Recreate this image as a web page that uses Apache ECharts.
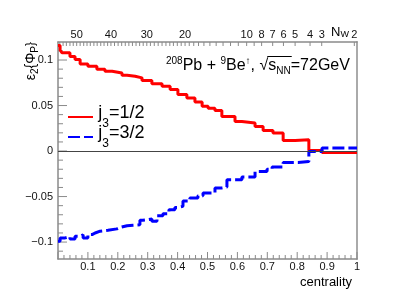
<!DOCTYPE html>
<html><head><meta charset="utf-8">
<script src="https://cdn.jsdelivr.net/npm/echarts@6/dist/echarts.min.js"></script>
<style>html,body{margin:0;padding:0;background:#fff}#c{width:415px;height:303px}</style>
</head><body><div id="c"></div>
<script>
// ---- data (bin lower edges in centrality, bin values) ----
const redEdges = [0.000,0.007,0.013,0.040,0.057,0.074,0.100,0.130,0.157,0.181,0.214,0.231,0.258,0.281,0.314,0.348,0.375,0.401,0.431,0.458,0.482,0.502,0.525,0.548,0.592,0.615,0.659,0.686,0.719,0.753,0.793,0.839,0.883];
const redValues = [0.116,0.111,0.108,0.104,0.1005,0.0957,0.0932,0.090,0.0877,0.0858,0.0833,0.0822,0.0804,0.0774,0.0738,0.0713,0.0675,0.062,0.0584,0.054,0.0493,0.047,0.0445,0.038,0.0325,0.0307,0.027,0.0226,0.0197,0.0116,0.0124,0.0007,-0.0015];
const blueEdges = [0.000,0.007,0.024,0.040,0.057,0.074,0.084,0.100,0.114,0.124,0.141,0.167,0.197,0.207,0.231,0.251,0.274,0.284,0.298,0.314,0.331,0.351,0.371,0.391,0.401,0.418,0.441,0.468,0.485,0.525,0.548,0.565,0.615,0.659,0.699,0.716,0.753,0.803,0.839,0.883];
const blueValues = [-0.099,-0.0954,-0.094,-0.0965,-0.0936,-0.092,-0.0954,-0.0918,-0.090,-0.088,-0.087,-0.0855,-0.084,-0.082,-0.0815,-0.081,-0.076,-0.0755,-0.0746,-0.077,-0.071,-0.0688,-0.0644,-0.062,-0.0607,-0.055,-0.0515,-0.049,-0.046,-0.0405,-0.0395,-0.0315,-0.0285,-0.0224,-0.020,-0.0175,-0.0125,-0.0114,-0.0004,0.0033];
const xEnd = 1.0;
const seriesNames = ['j3=1/2','j3=3/2'];

// ---- axis ticks / labels ----
const xLabelValues = [0.1,0.2,0.3,0.4,0.5,0.6,0.7,0.8,0.9,1.0];
const xMajorTicks = [0,0.1,0.2,0.3,0.4,0.5,0.6,0.7,0.8,0.9,1.0];
const xMinorTicks = [0.02,0.04,0.06,0.08,0.12,0.14,0.16,0.18,0.22,0.24,0.26,0.28,0.32,0.34,0.36,0.38,0.42,0.44,0.46,0.48,0.52,0.54,0.56,0.58,0.62,0.64,0.66,0.68,0.72,0.74,0.76,0.78,0.82,0.84,0.86,0.88,0.92,0.94,0.96,0.98];
const yLabelValues = [-0.1,-0.05,0,0.05,0.1];
const yMinorTicks = [-0.11,-0.09,-0.08,-0.07,-0.06,-0.04,-0.03,-0.02,-0.01,0.01,0.02,0.03,0.04,0.06,0.07,0.08,0.09,0.11];
const nwLabels = ['50','40','30','20','10','8','7','6','5','4','3','2'];
const nwLabelPos = [0.0625,0.177,0.297,0.425,0.631,0.681,0.718,0.754,0.793,0.843,0.882,0.991];
const nwTickPos = [0.006,0.017,0.028,0.040,0.051,0.0625,0.074,0.086,0.097,0.108,0.120,0.131,0.143,0.154,0.166,0.177,0.189,0.201,0.213,0.225,0.237,0.249,0.261,0.273,0.285,0.297,0.309,0.322,0.335,0.348,0.361,0.374,0.386,0.399,0.412,0.425,0.439,0.454,0.470,0.488,0.508,0.529,0.552,0.577,0.603,0.631,0.656,0.681,0.718,0.754,0.793,0.843,0.882,0.991];

const FONT = 'Liberation Sans';
const AX = '#8a8a8a';
const yMin = -0.1186, yMax = 0.1198;

function hist(edges, vals){
  const d = edges.map((e,i)=>[e, vals[i]]);
  d.push([xEnd, vals[vals.length-1]]);
  return d;
}
function fmtNum(v){
  const r = Math.round(v*1000)/1000;
  if (r === 0) return '0';
  const s = String(Math.abs(r));
  return (r<0?'\u2212':'') + s;
}
// tick marks drawn through the axes' scales
function tickSeries(values, side, len){
  return {
    type:'custom', silent:true, xAxisIndex:0, yAxisIndex:0, clip:false, z:1,
    data: values.map(v => side==='left' ? [0, v] : [v, 0]),
    renderItem:(params, api) => {
      let p, x2, y2;
      if (side==='bottom'){ p = api.coord([api.value(0), yMin]); x2 = p[0]; y2 = p[1]-len; }
      else if (side==='top'){ p = api.coord([api.value(0), yMax]); x2 = p[0]; y2 = p[1]+len; }
      else { p = api.coord([0, api.value(1)]); x2 = p[0]+len; y2 = p[1]; }
      return {type:'line', shape:{x1:p[0], y1:p[1], x2:x2, y2:y2}, style:{stroke:AX, lineWidth:1}};
    }
  };
}
function legendFor(name, top){
  return {
    orient:'vertical',left:67,top:top,padding:0,itemWidth:25,itemHeight:14,
    data:[name],
    itemStyle:{opacity:0},
    formatter:n=>'{h| }{m|j}{s|'+n.charAt(1)+'}{m|'+n.slice(2)+'}',
    textStyle:{fontFamily:FONT,color:'#000',fontSize:18,
      rich:{h:{fontFamily:FONT,fontSize:1,lineHeight:26,verticalAlign:'top'},
            m:{fontFamily:FONT,fontSize:18,lineHeight:24,verticalAlign:'top',color:'#000'},
            s:{fontFamily:FONT,fontSize:12,lineHeight:10,verticalAlign:'bottom',color:'#000'}}}
  };
}

// text measurement for the sqrt overline
const mctx = document.createElement('canvas').getContext('2d');
function tw(t, size){ mctx.font = size+'px "'+FONT+'"'; return mctx.measureText(t).width; }
const ANN_X = 166, ANN_M = 16, ANN_S = 10;
const preW = tw('208',ANN_S)+tw('Pb + ',ANN_M)+tw('9',ANN_S)+tw('Be',ANN_M)+tw('\u2191',ANN_S)+tw(', \u221a',ANN_M);
const sW = tw('s',ANN_M)+tw('NN',ANN_S);

const chart = echarts.init(document.getElementById('c'), null, {renderer:'canvas'});
chart.setOption({
  animation:false,
  backgroundColor:'#fff',
  grid:{left:58,right:58,top:42,bottom:44,containLabel:false},
  xAxis:[
    {type:'value',min:0,max:1,position:'bottom',
     axisLine:{show:true,onZero:false,lineStyle:{color:AX,width:1.5}},
     axisTick:{show:false},
     axisLabel:{customValues:xLabelValues,margin:2,fontFamily:FONT,fontSize:11,color:'#111',formatter:v=>fmtNum(v)},
     splitLine:{show:false}},
    {type:'value',min:0,max:1,position:'top',
     axisLine:{show:true,onZero:false,lineStyle:{color:AX,width:1.5}},
     axisTick:{show:false},
     axisLabel:{customValues:nwLabelPos,margin:2,fontFamily:FONT,fontSize:11,color:'#111',
       formatter:v=>{let bi=0,bd=1;nwLabelPos.forEach((p,i)=>{const d=Math.abs(p-v);if(d<bd){bd=d;bi=i;}});return nwLabels[bi];}},
     splitLine:{show:false}}
  ],
  yAxis:[
    {type:'value',min:yMin,max:yMax,position:'left',
     axisLine:{show:true,onZero:false,lineStyle:{color:AX,width:1.5}},
     axisTick:{show:false},
     axisLabel:{customValues:yLabelValues,margin:5,fontFamily:FONT,fontSize:11,color:'#111',formatter:v=>fmtNum(v)},
     splitLine:{show:false}},
    {type:'value',min:yMin,max:yMax,position:'right',
     axisLine:{show:true,onZero:false,lineStyle:{color:'#aaa',width:2}},
     axisTick:{show:false},axisLabel:{show:false},splitLine:{show:false}}
  ],
  legend:[legendFor(seriesNames[0],104), legendFor(seriesNames[1],124)],
  series:[
    {name:seriesNames[0],type:'line',step:'end',xAxisIndex:0,yAxisIndex:0,
     data:hist(redEdges,redValues),showSymbol:false,symbol:'none',
     lineStyle:{color:'#ff0000',width:3},itemStyle:{color:'#ff0000'},
     markLine:{silent:true,symbol:'none',label:{show:false},
       lineStyle:{color:'#444',width:1,type:'solid'},data:[{yAxis:0}]},
     z:3},
    {name:seriesNames[1],type:'line',step:'end',xAxisIndex:0,yAxisIndex:0,
     data:hist(blueEdges,blueValues),showSymbol:false,symbol:'none',
     lineStyle:{color:'#0000ff',width:3,type:[12,4]},itemStyle:{color:'#0000ff'},z:3},
    tickSeries(xMajorTicks,'bottom',7),
    tickSeries(xMinorTicks,'bottom',4),
    tickSeries(nwTickPos,'top',4),
    tickSeries(yLabelValues,'left',9),
    tickSeries(yMinorTicks,'left',5)
  ],
  graphic:[
    {type:'text',x:31,y:42,rotation:Math.PI/2,
     style:{text:'{m|\u03b5}{s|2}{m|{\u03a6}{s|P}{m|}}',align:'right',verticalAlign:'middle',
       rich:{m:{fontFamily:FONT,fontSize:14,lineHeight:18,fill:'#000'},
             s:{fontFamily:FONT,fontSize:10,lineHeight:10,verticalAlign:'bottom',fill:'#000'}}}},
    {type:'text',x:352,y:282,
     style:{text:'centrality',align:'right',verticalAlign:'middle',fontFamily:FONT,fontSize:13,fill:'#000'}},
    {type:'text',x:331,y:32,
     style:{text:'{m|N}{s|W}',align:'left',verticalAlign:'middle',
       rich:{m:{fontFamily:FONT,fontSize:13,lineHeight:15,fill:'#000'},
             s:{fontFamily:FONT,fontSize:9,lineHeight:9,verticalAlign:'bottom',fill:'#000'}}}},
    {type:'text',x:ANN_X,y:66,
     style:{text:'{u|208}{m|Pb + }{u|9}{m|Be}{u|\u2191}{m|, \u221a}{m|s}{d|NN}{m|=72GeV}',align:'left',verticalAlign:'middle',
       rich:{m:{fontFamily:FONT,fontSize:ANN_M,lineHeight:20,fill:'#000'},
             u:{fontFamily:FONT,fontSize:ANN_S,lineHeight:10,verticalAlign:'top',fill:'#000'},
             d:{fontFamily:FONT,fontSize:ANN_S,lineHeight:10,verticalAlign:'bottom',fill:'#000'}}}},
    {type:'line',shape:{x1:ANN_X+preW-1,y1:56.5,x2:ANN_X+preW+sW+1,y2:56.5},style:{stroke:'#000',lineWidth:1}}
  ]
});
</script></body></html>
